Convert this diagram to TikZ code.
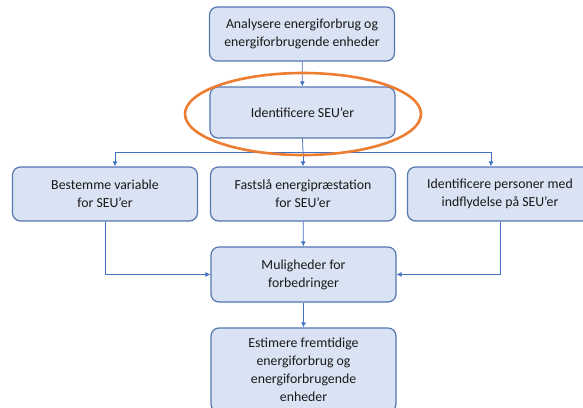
\documentclass[tikz,border=0pt]{standalone}
\usepackage{fontspec}
\setmainfont{Carlito}
\usepackage{tikz}
\usetikzlibrary{arrows.meta}
\definecolor{boxfill}{HTML}{DAE3F3}
\definecolor{boxline}{HTML}{5577B0}
\definecolor{linkblue}{HTML}{4472C4}
\definecolor{ringorange}{HTML}{ED7D31}

\begin{document}
\begin{tikzpicture}[x=1pt,y=-1pt,
    stepbox/.style={draw=boxline,line width=1.2pt,fill=boxfill,rounded corners=8pt,
        minimum width=185pt,minimum height=54pt,align=center,
        font=\fontsize{13.8}{18}\selectfont,text=black!90},
    link/.style={draw=linkblue,line width=0.8pt},
    arr/.style={link,-{Latex[length=5pt,width=5pt]}}]
\useasboundingbox (0,0) rectangle (583,407);

% Boxes
\node[stepbox] (analyse) at (302,34) {Analysere energiforbrug og\\energiforbrugende enheder};
\node[stepbox,minimum height=51pt] (seu) at (302.5,112.5) {Identificere SEU’er};
\node[stepbox] (variable) at (105,194) {Bestemme variable\\for SEU’er};
\node[stepbox] (praest) at (303,194) {Fastslå energipræstation\\for SEU’er};
\node[stepbox] (personer) at (500,194) {Identificere personer med\\indflydelse på SEU’er};
\node[stepbox,minimum height=55pt] (mulig) at (303.5,274.5) {Muligheder for\\forbedringer};
\node[stepbox,minimum height=84pt] (estim) at (303.5,370) {Estimere fremtidige\\energiforbrug og\\energiforbrugende\\enheder};

% Connectors
\coordinate (split) at (303,152);
\draw[arr] (analyse) -- (seu);
\draw[link] (seu.south) -- (split);
\draw[arr] (split) -| ([xshift=10pt]variable.north);
\draw[arr] (split) -- (praest.north);
\draw[arr] (split) -| ([xshift=-9pt]personer.north);
\draw[arr] (variable.south) |- (mulig.west);
\draw[arr] (personer.south) |- (mulig.east);
\draw[arr] (praest) -- (mulig);
\draw[arr] (mulig) -- (estim);

% Highlight
\draw[ringorange,line width=2.6pt] (303,114) ellipse (118 and 41);
\end{tikzpicture}
\end{document}
